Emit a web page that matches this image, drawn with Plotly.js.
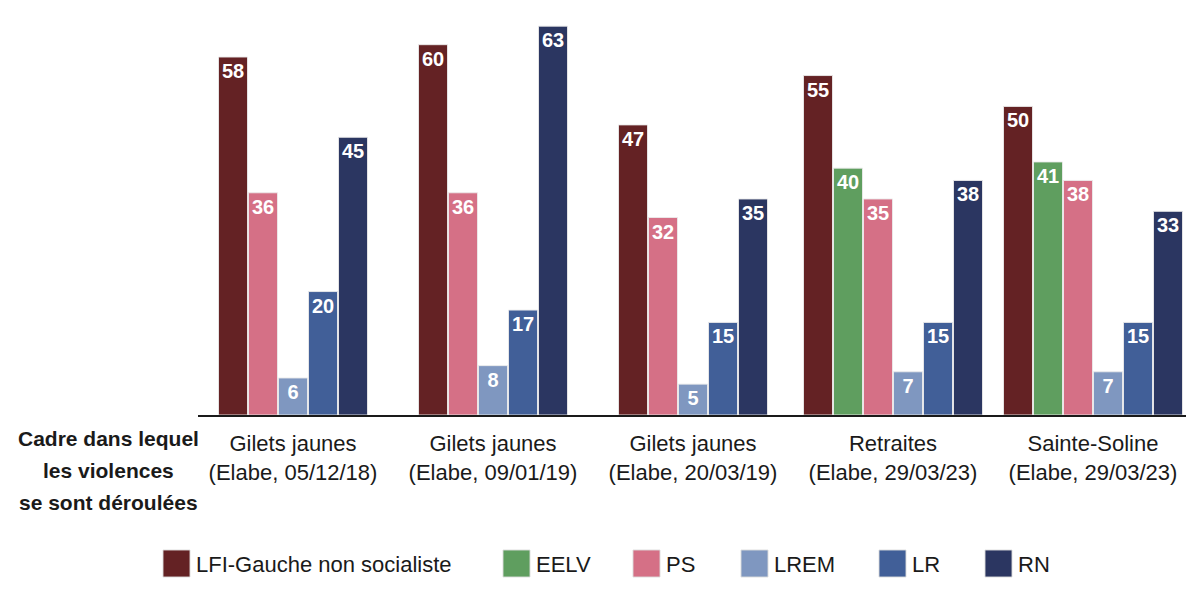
<!DOCTYPE html>
<html>
<head>
<meta charset="utf-8">
<script src="https://cdn.plot.ly/plotly-3.0.1.min.js"></script>
<style>
  body { margin: 0; background: #fff; }
  #chart { width: 1202px; height: 594px; }
</style>
</head>
<body>
<div id="chart"></div>
<script>
var categories = ['Gilets jaunes<br>(Elabe, 05/12/18)', 'Gilets jaunes<br>(Elabe, 09/01/19)', 'Gilets jaunes<br>(Elabe, 20/03/19)', 'Retraites<br>(Elabe, 29/03/23)', 'Sainte-Soline<br>(Elabe, 29/03/23)'];
var seriesNames = ['LFI-Gauche non socialiste', 'EELV', 'PS', 'LREM', 'LR', 'RN'];
var lfi  = [58, 60, 47, 55, 50];
var eelv = [null, null, null, 40, 41];
var ps   = [36, 36, 32, 35, 38];
var lrem = [6, 8, 5, 7, 7];
var lr   = [20, 17, 15, 15, 15];
var rn   = [45, 63, 35, 38, 33];
var seriesValues = [lfi, eelv, ps, lrem, lr, rn];
var colors = ['#642224', '#5f9e5f', '#d57086', '#7f97c0', '#415f98', '#2b3661'];
var axisTitleLines = ['Cadre dans lequel', 'les violences', 'se sont déroulées'];

var FONT = '"Liberation Sans", Arial, sans-serif';
var W = 1202, H = 594;
var mL = 198, mR = 16, mT = 20, mB = 179;
var plotW = W - mL - mR, plotH = H - mT - mB;
function px(x) { return (x - mL) / plotW; }
function py(y) { return (H - mB - y) / plotH; }

var step = 0.15, barW = 0.145;

// bars are re-centred in each group over the parties actually present
var traces = seriesNames.map(function (name, s) {
  var vals = seriesValues[s];
  var offsets = vals.map(function (v, g) {
    var present = [];
    seriesValues.forEach(function (arr, k) { if (arr[g] !== null) present.push(k); });
    var slot = present.indexOf(s);
    if (slot < 0) return 0;
    return (slot - present.length / 2) * step + (step - barW) / 2;
  });
  return {
    type: 'bar', name: name, x: categories, y: vals,
    width: barW, offset: offsets,
    marker: { color: colors[s], line: { color: 'rgba(235,235,235,0.9)', width: 1 } },
    texttemplate: '%{y}', textposition: 'inside', insidetextanchor: 'end', textangle: 0,
    constraintext: 'none', cliponaxis: false,
    textfont: { family: FONT, size: 20, color: '#ffffff', weight: 'bold' },
    hoverinfo: 'x+y', showlegend: false
  };
});

var shapes = [];
var annotations = [];
var legendX = [163, 503, 633, 741, 879, 985];
seriesNames.forEach(function (name, s) {
  shapes.push({ type: 'rect', xref: 'paper', yref: 'paper',
    x0: px(legendX[s]), x1: px(legendX[s] + 27), y0: py(577), y1: py(550),
    fillcolor: colors[s], line: { width: 1, color: 'rgba(220,220,220,0.9)' } });
  annotations.push({ xref: 'paper', yref: 'paper', x: px(legendX[s] + 31), y: py(564),
    xanchor: 'left', yanchor: 'middle', showarrow: false, text: name,
    font: { family: FONT, size: 22, color: '#1a1a1a' } });
});
axisTitleLines.forEach(function (line, i) {
  annotations.push({ xref: 'paper', yref: 'paper', x: px(108), y: py(438 + i * 32),
    xanchor: 'center', yanchor: 'middle', showarrow: false, text: line,
    font: { family: FONT, size: 21, color: '#1a1a1a', weight: 'bold' } });
});

var layout = {
  width: W, height: H,
  margin: { l: mL, r: mR, t: mT, b: mB },
  paper_bgcolor: '#ffffff', plot_bgcolor: '#ffffff',
  barmode: 'overlay',
  font: { family: FONT, size: 22, color: '#1a1a1a' },
  xaxis: { type: 'category', range: [-0.475, 4.465], showline: true, linecolor: '#1a1a1a', linewidth: 2,
    ticks: '', showgrid: false, zeroline: false, ticklabelstandoff: 8,
    tickfont: { family: FONT, size: 22, color: '#1a1a1a' } },
  yaxis: { range: [0, 64], visible: false, showgrid: false, zeroline: false, fixedrange: true },
  shapes: shapes,
  annotations: annotations
};

Plotly.newPlot('chart', traces, layout, { displayModeBar: false, staticPlot: true });
</script>
</body>
</html>
